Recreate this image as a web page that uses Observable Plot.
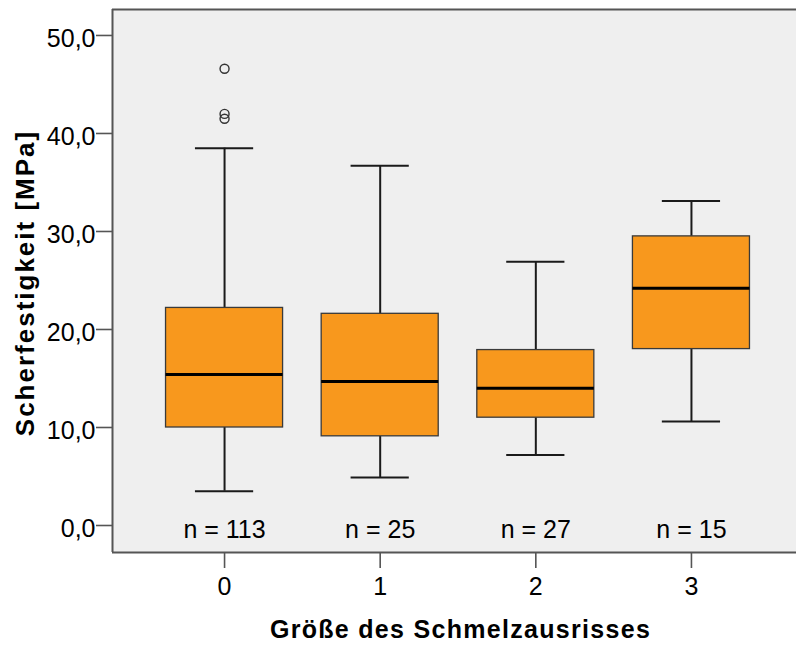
<!DOCTYPE html>
<html>
<head>
<meta charset="utf-8">
<script src="https://cdn.jsdelivr.net/npm/d3@7"></script>
<script src="https://cdn.jsdelivr.net/npm/@observablehq/plot@0.6"></script>
<style>
  html, body { margin: 0; padding: 0; background: #fff; }
</style>
</head>
<body>
<div id="chart"></div>
<script>
// ---- data ----
const categories = [0, 1, 2, 3];
const whiskerLow = [3.5, 4.9, 7.2, 10.6];
const q1 = [10.0, 9.1, 11.0, 18.0];
const median = [15.4, 14.7, 14.0, 24.2];
const q3 = [22.2, 21.6, 17.9, 29.5];
const whiskerHigh = [38.5, 36.7, 26.9, 33.1];
const counts = [113, 25, 27, 15];
const outlierGroup = [0, 0, 0];
const outlierValue = [46.6, 42.0, 41.5];
const yTicks = [0, 10, 20, 30, 40, 50];
const xLabel = "Größe des Schmelzausrisses";
const yLabel = "Scherfestigkeit [MPa]";

const boxes = categories.map((c, i) => ({
  x: c, low: whiskerLow[i], q1: q1[i], med: median[i], q3: q3[i], high: whiskerHigh[i], n: counts[i]
}));
const outliers = outlierGroup.map((g, i) => ({x: g, y: outlierValue[i]}));

const xDomain = [-0.72, 3.675];
const yDomain = [-2.755, 52.65];
const boxHalf = 0.376, capHalf = 0.187;
const fmt = d => d3.format(".1f")(d).replace(".", ",");
const font = "'Liberation Sans', Arial, sans-serif";

const chart = Plot.plot({
  width: 796,
  height: 646,
  marginLeft: 112,
  marginRight: 0,
  marginTop: 9,
  marginBottom: 94,
  style: {fontFamily: font, fontSize: "25px", background: "#fff", color: "#000"},
  x: {type: "linear", domain: xDomain},
  y: {type: "linear", domain: yDomain},
  marks: [
    Plot.frame({fill: "#efefef", stroke: null}),
    Plot.ruleX(boxes, {x: "x", y1: "low", y2: "q1", stroke: "#1a1a1a", strokeWidth: 2}),
    Plot.ruleX(boxes, {x: "x", y1: "q3", y2: "high", stroke: "#1a1a1a", strokeWidth: 2}),
    Plot.ruleY(boxes, {y: "low", x1: d => d.x - capHalf, x2: d => d.x + capHalf, stroke: "#1a1a1a", strokeWidth: 2}),
    Plot.ruleY(boxes, {y: "high", x1: d => d.x - capHalf, x2: d => d.x + capHalf, stroke: "#1a1a1a", strokeWidth: 2}),
    Plot.rect(boxes, {x1: d => d.x - boxHalf, x2: d => d.x + boxHalf, y1: "q1", y2: "q3", fill: "#f8981d", stroke: "#3a3a3a", strokeWidth: 1.3}),
    Plot.ruleY(boxes, {y: "med", x1: d => d.x - boxHalf, x2: d => d.x + boxHalf, stroke: "#000", strokeWidth: 3}),
    Plot.dot(outliers, {x: "x", y: "y", r: 4.5, stroke: "#333", strokeWidth: 1.4, fill: "none"}),
    Plot.text(boxes, {x: "x", text: d => `n = ${d.n}`, frameAnchor: "bottom", dy: -15, fontSize: 25, fill: "#000"}),
    Plot.ruleY([yDomain[1]], {stroke: "#555", strokeWidth: 2}),
    Plot.ruleY([yDomain[0]], {stroke: "#555", strokeWidth: 2}),
    Plot.ruleX([xDomain[0]], {stroke: "#555", strokeWidth: 2}),
    Plot.axisY({ticks: yTicks, tickSize: 16, tickFormat: () => "", stroke: "#555", strokeWidth: 1.6, label: null}),
    Plot.axisY({ticks: yTicks, tickSize: 0, tickPadding: 17, tickFormat: fmt, fontSize: 25, label: null, dy: 4}),
    Plot.axisX({ticks: categories, tickSize: 16, tickPadding: 9, tickFormat: d => String(d), fontSize: 25, stroke: "#555", strokeWidth: 1.6, label: null}),
    Plot.text([xLabel], {text: d => d, frameAnchor: "bottom", dy: 85, dx: 6, fontSize: 25, fontWeight: "bold", fill: "#000"}),
    Plot.text([yLabel], {text: d => d, frameAnchor: "left", textAnchor: "middle", rotate: -90, dx: -87, dy: 2, fontSize: 26, fontWeight: "bold", fill: "#000"})
  ]
});
document.getElementById("chart").appendChild(chart);
// widen the axis titles slightly to match the reference's letter spacing
d3.select(chart).selectAll("text")
  .filter(function() { return this.textContent === xLabel; })
  .style("letter-spacing", "1.3px");
d3.select(chart).selectAll("text")
  .filter(function() { return this.textContent === yLabel; })
  .style("letter-spacing", "2px");
</script>
</body>
</html>
